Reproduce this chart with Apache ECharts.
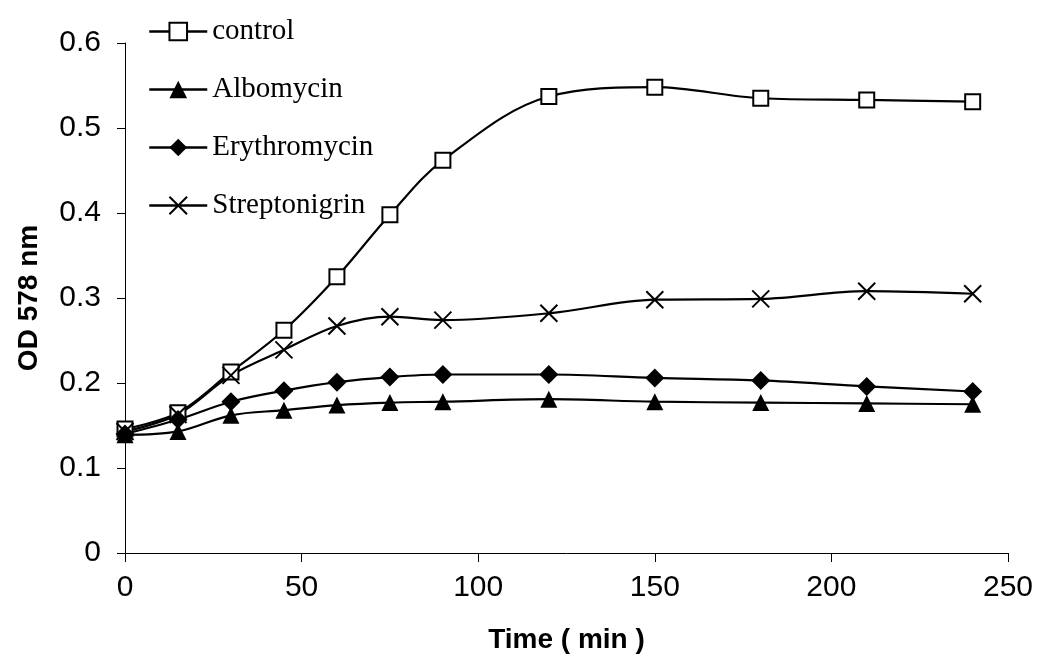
<!DOCTYPE html>
<html>
<head>
<meta charset="utf-8">
<script src="https://cdn.jsdelivr.net/npm/echarts@6/dist/echarts.min.js"></script>
<style>
html,body{margin:0;padding:0;background:#fff;}
#chart{width:1038px;height:659px;}
</style>
</head>
<body>
<div id="chart"></div>
<script>
var times = [0, 15, 30, 45, 60, 75, 90, 120, 150, 180, 210, 240];
var control = [0.146, 0.165, 0.213, 0.262, 0.325, 0.398, 0.462, 0.537, 0.548, 0.535, 0.533, 0.531];
var albomycin = [0.139, 0.143, 0.162, 0.168, 0.174, 0.177, 0.178, 0.181, 0.178, 0.177, 0.176, 0.175];
var erythromycin = [0.140, 0.157, 0.178, 0.191, 0.201, 0.207, 0.210, 0.210, 0.206, 0.203, 0.196, 0.190];
var streptonigrin = [0.143, 0.163, 0.209, 0.239, 0.267, 0.278, 0.274, 0.282, 0.298, 0.299, 0.308, 0.305];
var seriesNames = ['control', 'Albomycin', 'Erythromycin', 'Streptonigrin'];
var xTicks = [0, 50, 100, 150, 200, 250];
var yTicks = [0, 0.1, 0.2, 0.3, 0.4, 0.5, 0.6];

function pairs(arr) { return times.map(function (t, i) { return [t, arr[i]]; }); }

var crossPath = 'path://M0,0L10,10M10,0L0,10';

function mk(name, data, symbol, size, fill, bw) {
  return {
    name: name,
    type: 'line',
    data: pairs(data),
    smooth: 0.35,
    symbol: symbol,
    symbolSize: size,
    showAllSymbol: true,
    lineStyle: { color: '#000', width: 2.2 },
    itemStyle: { color: fill, borderColor: '#000', borderWidth: bw },
    emphasis: { disabled: true },
    z: 2
  };
}

var chart = echarts.init(document.getElementById('chart'), null, { renderer: 'canvas' });
chart.setOption({
  animation: false,
  backgroundColor: '#fff',
  grid: { left: 125, right: 30, top: 43, bottom: 106, containLabel: false },
  legend: {
    orient: 'vertical',
    left: 143,
    top: 11,
    itemWidth: 58,
    itemHeight: 22,
    itemGap: 27,
    data: seriesNames,
    lineStyle: { width: 2.5, color: '#000' },
    textStyle: { fontFamily: '"Liberation Serif", "Times New Roman", serif', fontSize: 29, color: '#000', lineHeight: 31, padding: [0, 0, 0, 0] },
    selectedMode: false
  },
  xAxis: {
    type: 'value',
    min: xTicks[0], max: xTicks[xTicks.length - 1], interval: 50,
    name: 'Time ( min )',
    nameLocation: 'middle',
    nameGap: 73,
    nameTextStyle: { fontFamily: '"Liberation Sans", Arial, sans-serif', fontWeight: 'bold', fontSize: 28, color: '#000' },
    axisLine: { show: true, lineStyle: { color: '#000', width: 1 } },
    axisTick: { show: true, inside: false, length: 9, lineStyle: { color: '#000' } },
    axisLabel: { margin: 20, fontFamily: '"Liberation Sans", Arial, sans-serif', fontSize: 30, color: '#000' },
    splitLine: { show: false }
  },
  yAxis: {
    type: 'value',
    min: yTicks[0], max: yTicks[yTicks.length - 1], interval: 0.1,
    name: 'OD 578 nm',
    nameLocation: 'middle',
    nameGap: 82,
    nameRotate: 90,
    nameTextStyle: { fontFamily: '"Liberation Sans", Arial, sans-serif', fontWeight: 'bold', fontSize: 28, color: '#000' },
    axisLine: { show: true, lineStyle: { color: '#000', width: 1 } },
    axisTick: { show: true, inside: false, length: 8, lineStyle: { color: '#000' } },
    axisLabel: { margin: 24, fontFamily: '"Liberation Sans", Arial, sans-serif', fontSize: 30, color: '#000',
      formatter: function (v) { return String(Math.round(v * 10) / 10); } },
    splitLine: { show: false }
  },
  series: [
    mk(seriesNames[0], control, 'rect', 15, '#fff', 2),
    mk(seriesNames[1], albomycin, 'triangle', 17, '#000', 0),
    mk(seriesNames[2], erythromycin, 'diamond', 19, '#000', 0),
    mk(seriesNames[3], streptonigrin, crossPath, 17, 'rgba(0,0,0,0)', 2)
  ]
});
</script>
</body>
</html>
